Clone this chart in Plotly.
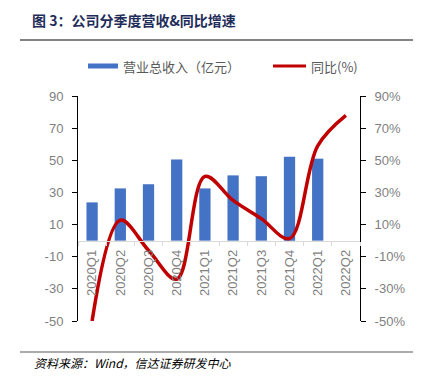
import plotly.graph_objects as go

quarters = ["2020Q1", "2020Q2", "2020Q3", "2020Q4", "2021Q1", "2021Q2",
            "2021Q3", "2021Q4", "2022Q1", "2022Q2"]
revenue = [23.8, 32.5, 35.1, 50.5, 32.5, 40.6, 40.1, 52.2, 51.0, None]
yoy = [-50, 12.7, -6, -24, 40, 25, 13.7, 1.3, 59, 78]

left_ticks = [-50, -30, -10, 10, 30, 50, 70, 90]
left_text = ["-50", "-30", "-10", "10", "30", "50", "70", "90"]
right_text = ["-50%", "-30%", "-10%", "10%", "30%", "50%", "70%", "90%"]

title_text = "图 3：公司分季度营收&同比增速"
legend_bar = "营业总收入（亿元）"
legend_line = "同比(%)"
source_text = "资料来源：Wind，信达证券研发中心"

OFF = 8  # page body margin
W, H = 421 - OFF, 387 - OFF
L, R, T, B = 78 - OFF, 61, 96 - OFF, 66
PW, PH = W - L - R, H - T - B


def px(x):
    return (x - OFF - L) / PW


def py(y):
    return (H - B - (y - OFF)) / PH


grey = "#7f7f7f"
font_main = "Liberation Sans, Arial, Noto Sans CJK SC, sans-serif"
font_cjk = "Noto Sans CJK SC, sans-serif"

fig = go.Figure()
fig.add_trace(go.Bar(x=quarters, y=revenue, marker_color="#4472C4",
                     marker_line_width=0, width=0.4, yaxis="y",
                     showlegend=False, name=legend_bar))
fig.add_trace(go.Scatter(x=quarters, y=yoy, mode="lines",
                         line=dict(color="#C00000", width=3.5, shape="spline", smoothing=1.0),
                         yaxis="y2", showlegend=False, name=legend_line))

zero_pos = (0 - (-50)) / 140

fig.update_layout(
    width=W, height=H,
    margin=dict(l=L, r=R, t=T, b=B, autoexpand=False),
    paper_bgcolor="white", plot_bgcolor="white",
    font=dict(family=font_main, size=13, color=grey),
    xaxis=dict(type="category", anchor="free", position=zero_pos,
               showline=True, linecolor="#d9d9d9", linewidth=1,
               ticks="outside", tickson="boundaries", ticklen=4, tickcolor="#d9d9d9",
               tickangle=-90, tickfont=dict(size=13, color=grey),
               ticklabelstandoff=3,
               showgrid=False, zeroline=False, range=[-0.5, 9.5]),
    yaxis=dict(range=[-50, 90], tickvals=left_ticks, ticktext=left_text,
               showline=True, linecolor="black", linewidth=1,
               ticks="outside", ticklen=5, tickcolor="black",
               ticklabelstandoff=6,
               showgrid=False, zeroline=False, tickfont=dict(size=13, color=grey)),
    yaxis2=dict(range=[-50, 90], tickvals=left_ticks, ticktext=right_text,
                overlaying="y", side="right",
                showline=True, linecolor="black", linewidth=1,
                ticks="outside", ticklen=5, tickcolor="black",
                ticklabelstandoff=6,
                showgrid=False, zeroline=False, tickfont=dict(size=13, color=grey)),
    bargap=0.6,
)

shapes = [
    dict(type="line", xref="paper", yref="paper", x0=px(20), x1=px(415), y0=py(40), y1=py(40),
         line=dict(color="#595959", width=1.5)),
    dict(type="line", xref="paper", yref="paper", x0=px(20), x1=px(415), y0=py(352), y1=py(352),
         line=dict(color="#595959", width=1.2)),
    dict(type="rect", xref="paper", yref="paper", x0=px(88), x1=px(118), y0=py(68.5), y1=py(63.5),
         fillcolor="#4472C4", line=dict(width=0)),
    dict(type="line", xref="paper", yref="paper", x0=px(273), x1=px(306), y0=py(66), y1=py(66),
         line=dict(color="#C00000", width=3)),
]
fig.update_layout(shapes=shapes)

annotations = [
    dict(text="<b>" + title_text + "</b>", xref="paper", yref="paper", x=px(30), y=py(20),
         xanchor="left", yanchor="middle", showarrow=False,
         font=dict(family=font_cjk, size=14, color="#1f2d5a")),
    dict(text=legend_bar, xref="paper", yref="paper", x=px(121), y=py(66),
         xanchor="left", yanchor="middle", showarrow=False,
         font=dict(family=font_cjk, size=13, color="#595959")),
    dict(text=legend_line, xref="paper", yref="paper", x=px(309), y=py(66),
         xanchor="left", yanchor="middle", showarrow=False,
         font=dict(family=font_cjk, size=13, color="#595959")),
    dict(text="<i>" + source_text + "</i>", xref="paper", yref="paper", x=px(32), y=py(362),
         xanchor="left", yanchor="middle", showarrow=False,
         font=dict(family=font_cjk, size=12, color="black")),
]
fig.update_layout(annotations=annotations)

fig.write_html("out.html")
